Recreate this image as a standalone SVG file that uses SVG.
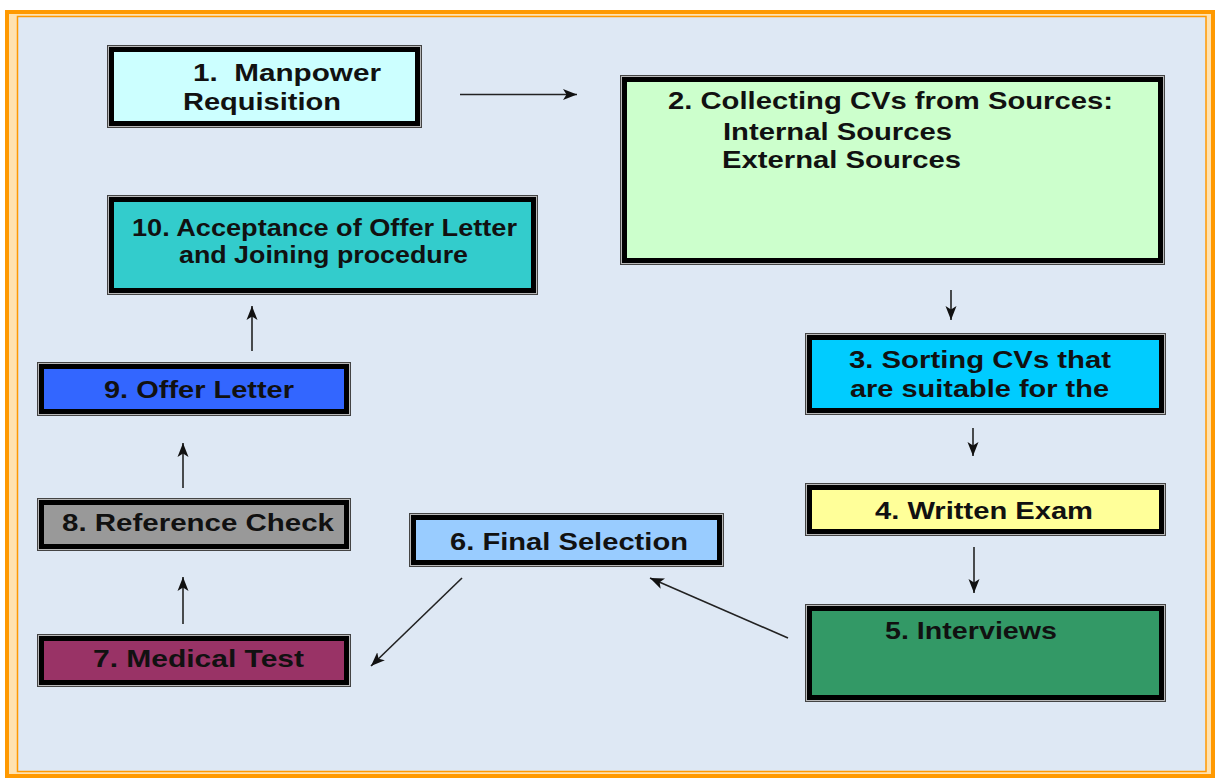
<svg xmlns="http://www.w3.org/2000/svg" width="1220" height="778" viewBox="0 0 1220 778">
  <style>
    .edge { fill: #b8b8b8; stroke: #444; stroke-width: 1; }
    .frame { stroke: #000; stroke-width: 5; }
    .lbl { font-family: "Liberation Sans", Arial, sans-serif; font-weight: bold; font-size: 24px; fill: #111; white-space: pre; }
    .conn { stroke: #222; stroke-width: 1.6; fill: none; marker-end: url(#arrow); }
  </style>
  <defs>
    <marker id="arrow" markerUnits="userSpaceOnUse" markerWidth="15" markerHeight="12" refX="14" refY="6" orient="auto">
      <path d="M0,0.5 L14,6 L0,11.5 L3.5,6 z" fill="#111"/>
    </marker>
  </defs>
  <rect x="0" y="0" width="1220" height="778" fill="#ffffff"/>
  <g id="border">
    <rect x="7" y="12" width="1206" height="764" fill="#ffe2b0" stroke="#ff9900" stroke-width="4"/>
    <rect x="17.5" y="16.5" width="1188.5" height="755" fill="#dee8f4" stroke="#ff9900" stroke-width="1.5"/>
  </g>
  <g id="connectors">
    <path class="conn" d="M460,94.5 L577,94.5"/>
    <path class="conn" d="M951,290 L951,320"/>
    <path class="conn" d="M973,428 L973,456"/>
    <path class="conn" d="M974,547 L974,593"/>
    <path class="conn" d="M788,638 L650,578"/>
    <path class="conn" d="M462,578 L371,666"/>
    <path class="conn" d="M183,624 L183,577"/>
    <path class="conn" d="M183,488 L183,443"/>
    <path class="conn" d="M252,351 L252,306"/>
  </g>
  <g id="node1">
    <rect class="edge" x="107.5" y="45.5" width="314" height="82"/>
    <rect class="frame" x="111.5" y="49.5" width="306" height="74" fill="#ccffff"/>
    <text class="lbl" x="193" y="81" textLength="188" lengthAdjust="spacingAndGlyphs">1.  Manpower</text>
    <text class="lbl" x="183" y="110" textLength="158" lengthAdjust="spacingAndGlyphs">Requisition</text>
  </g>
  <g id="node2">
    <rect class="edge" x="620.5" y="75.5" width="544" height="189"/>
    <rect class="frame" x="624.5" y="79.5" width="536" height="181" fill="#ccffcc"/>
    <text class="lbl" x="668" y="109" textLength="445" lengthAdjust="spacingAndGlyphs">2. Collecting CVs from Sources:</text>
    <text class="lbl" x="723" y="140" textLength="229" lengthAdjust="spacingAndGlyphs">Internal Sources</text>
    <text class="lbl" x="722" y="168" textLength="239" lengthAdjust="spacingAndGlyphs">External Sources</text>
  </g>
  <g id="node3">
    <rect class="edge" x="805.5" y="333.5" width="360" height="81"/>
    <rect class="frame" x="809.5" y="337.5" width="352" height="73" fill="#00ccff"/>
    <text class="lbl" x="849" y="368" textLength="262" lengthAdjust="spacingAndGlyphs">3. Sorting CVs that</text>
    <text class="lbl" x="850" y="397" textLength="259" lengthAdjust="spacingAndGlyphs">are suitable for the</text>
  </g>
  <g id="node4">
    <rect class="edge" x="805.5" y="483.5" width="360" height="52"/>
    <rect class="frame" x="809.5" y="487.5" width="352" height="44" fill="#ffff99"/>
    <text class="lbl" x="875" y="519" textLength="218" lengthAdjust="spacingAndGlyphs">4. Written Exam</text>
  </g>
  <g id="node5">
    <rect class="edge" x="805.5" y="604.5" width="360" height="97"/>
    <rect class="frame" x="809.5" y="608.5" width="352" height="89" fill="#339966"/>
    <text class="lbl" x="885" y="639" textLength="172" lengthAdjust="spacingAndGlyphs">5. Interviews</text>
  </g>
  <g id="node6">
    <rect class="edge" x="409.5" y="513.5" width="314" height="53"/>
    <rect class="frame" x="413.5" y="517.5" width="306" height="45" fill="#99ccff"/>
    <text class="lbl" x="450" y="550" textLength="238" lengthAdjust="spacingAndGlyphs">6. Final Selection</text>
  </g>
  <g id="node7">
    <rect class="edge" x="37.5" y="634.5" width="313" height="52"/>
    <rect class="frame" x="41.5" y="638.5" width="305" height="44" fill="#993366"/>
    <text class="lbl" x="93" y="667" textLength="211" lengthAdjust="spacingAndGlyphs">7. Medical Test</text>
  </g>
  <g id="node8">
    <rect class="edge" x="37.5" y="498.5" width="313" height="52"/>
    <rect class="frame" x="41.5" y="502.5" width="305" height="44" fill="#999999"/>
    <text class="lbl" x="62" y="531" textLength="272" lengthAdjust="spacingAndGlyphs">8. Reference Check</text>
  </g>
  <g id="node9">
    <rect class="edge" x="37.5" y="362.5" width="313" height="53"/>
    <rect class="frame" x="41.5" y="366.5" width="305" height="45" fill="#3366ff"/>
    <text class="lbl" x="104" y="398" textLength="190" lengthAdjust="spacingAndGlyphs">9. Offer Letter</text>
  </g>
  <g id="node10">
    <rect class="edge" x="107.5" y="195.5" width="430" height="99"/>
    <rect class="frame" x="111.5" y="199.5" width="422" height="91" fill="#33cccc"/>
    <text class="lbl" x="132" y="236" textLength="385" lengthAdjust="spacingAndGlyphs">10. Acceptance of Offer Letter</text>
    <text class="lbl" x="179" y="263" textLength="289" lengthAdjust="spacingAndGlyphs">and Joining procedure</text>
  </g>
</svg>
